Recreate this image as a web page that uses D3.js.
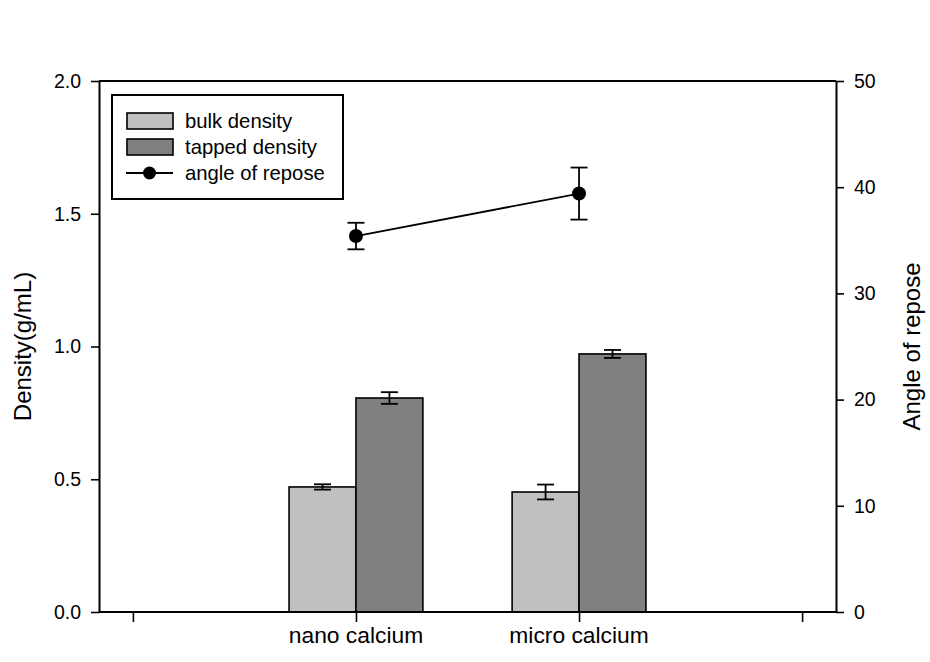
<!DOCTYPE html>
<html>
<head>
<meta charset="utf-8">
<script src="https://cdn.jsdelivr.net/npm/d3@7"></script>
<style>
  html, body { margin: 0; padding: 0; background: #fff; }
  svg { display: block; }
  text { font-family: "Liberation Sans", Arial, sans-serif; fill: #000; }
</style>
</head>
<body>
<svg id="chart" width="930" height="662"></svg>
<script>
// ---- data ----
const categories = ["nano calcium", "micro calcium"];
const categoryPos = [1, 2];
const xTickPos = [0, 1, 2, 3];
const bulkDensity = [0.471, 0.452];
const bulkErr = [0.010, 0.028];
const tappedDensity = [0.806, 0.972];
const tappedErr = [0.022, 0.015];
const angleOfRepose = [35.4, 39.4];
const angleErr = [1.25, 2.45];
const leftTicks = [0, 0.5, 1.0, 1.5, 2.0];
const rightTicks = [0, 10, 20, 30, 40, 50];
const legendLabels = ["bulk density", "tapped density", "angle of repose"];

// ---- layout ----
const svg = d3.select("#chart");
const L = 99, R = 836, T = 81, B = 612;
const x = d3.scaleLinear().domain([-0.152, 3.152]).range([L, R]);
const yL = d3.scaleLinear().domain([0, 2]).range([B, T]);
const yR = d3.scaleLinear().domain([0, 50]).range([B, T]);
const barW = 0.3;
const bulkColor = "#c0c0c0", tappedColor = "#808080";

// bars
const g = svg.append("g");
function drawBars(vals, errs, offset, color) {
  g.selectAll(null).data(vals).enter().append("rect")
    .attr("x", (d, i) => x(categoryPos[i] + offset))
    .attr("width", x(barW) - x(0))
    .attr("y", d => yL(d))
    .attr("height", d => B - yL(d))
    .attr("fill", color).attr("stroke", "#000").attr("stroke-width", 1.6);
  vals.forEach((d, i) => {
    const cx = x(categoryPos[i] + offset + barW / 2);
    const y1 = yL(d + errs[i]), y0 = yL(d - errs[i]);
    g.append("line").attr("x1", cx).attr("x2", cx).attr("y1", y1).attr("y2", y0)
      .attr("stroke", "#000").attr("stroke-width", 1.8);
    [y1, y0].forEach(yy => g.append("line").attr("x1", cx - 8.5).attr("x2", cx + 8.5)
      .attr("y1", yy).attr("y2", yy).attr("stroke", "#000").attr("stroke-width", 1.8));
  });
}
drawBars(bulkDensity, bulkErr, -barW, bulkColor);
drawBars(tappedDensity, tappedErr, 0, tappedColor);

// angle line
const line = d3.line().x((d, i) => x(categoryPos[i])).y(d => yR(d));
g.append("path").datum(angleOfRepose).attr("d", line)
  .attr("fill", "none").attr("stroke", "#000").attr("stroke-width", 1.8);
angleOfRepose.forEach((d, i) => {
  const cx = x(categoryPos[i]);
  const y1 = yR(d + angleErr[i]), y0 = yR(d - angleErr[i]);
  g.append("line").attr("x1", cx).attr("x2", cx).attr("y1", y1).attr("y2", y0)
    .attr("stroke", "#000").attr("stroke-width", 1.8);
  [y1, y0].forEach(yy => g.append("line").attr("x1", cx - 8.5).attr("x2", cx + 8.5)
    .attr("y1", yy).attr("y2", yy).attr("stroke", "#000").attr("stroke-width", 1.8));
});
g.selectAll(null).data(angleOfRepose).enter().append("circle")
  .attr("cx", (d, i) => x(categoryPos[i])).attr("cy", d => yR(d))
  .attr("r", 7).attr("fill", "#000");

// frame top
svg.append("line").attr("x1", L).attr("x2", R).attr("y1", T).attr("y2", T)
  .attr("stroke", "#000").attr("stroke-width", 2);

// axes
function styleAxis(sel, fs) {
  sel.select(".domain").attr("stroke", "#000").attr("stroke-width", 2);
  sel.selectAll(".tick line").attr("stroke", "#000").attr("stroke-width", 1.6);
  sel.selectAll(".tick text").style("font-size", fs + "px")
    .style("font-family", '"Liberation Sans", Arial, sans-serif').attr("fill", "#000");
}
const axL = svg.append("g").attr("transform", `translate(${L},0)`)
  .call(d3.axisLeft(yL).tickValues(leftTicks).tickFormat(d3.format(".1f")).tickSize(8).tickSizeOuter(0).tickPadding(10));
styleAxis(axL, 19.5);
const axR = svg.append("g").attr("transform", `translate(${R},0)`)
  .call(d3.axisRight(yR).tickValues(rightTicks).tickFormat(d3.format("d")).tickSize(8).tickSizeOuter(0).tickPadding(10));
styleAxis(axR, 19.5);
const axB = svg.append("g").attr("transform", `translate(0,${B})`)
  .call(d3.axisBottom(x).tickValues(xTickPos).tickFormat(() => "").tickSize(10).tickSizeOuter(0));
styleAxis(axB, 22);
axB.select(".domain").attr("d", `M${L},0H${R}`);
svg.selectAll(null).data(categories).enter().append("text")
  .attr("x", (d, i) => x(categoryPos[i])).attr("y", 643)
  .attr("text-anchor", "middle").style("font-size", "22.8px").text(d => d);

// axis titles
svg.append("text").attr("transform", `translate(31,${(T + B) / 2}) rotate(-90)`)
  .attr("text-anchor", "middle").style("font-size", "24px").text("Density(g/mL)");
svg.append("text").attr("transform", `translate(920,${(T + B) / 2}) rotate(-90)`)
  .attr("text-anchor", "middle").style("font-size", "24px").text("Angle of repose");

// legend
const lg = svg.append("g");
lg.append("rect").attr("x", 112).attr("y", 95).attr("width", 231).attr("height", 104)
  .attr("fill", "#fff").attr("stroke", "#000").attr("stroke-width", 2);
const rowY = [121, 147, 173];
[bulkColor, tappedColor].forEach((c, i) => {
  lg.append("rect").attr("x", 127).attr("y", rowY[i] - 8).attr("width", 46).attr("height", 16)
    .attr("fill", c).attr("stroke", "#000").attr("stroke-width", 1.6);
});
lg.append("line").attr("x1", 126).attr("x2", 173).attr("y1", rowY[2]).attr("y2", rowY[2])
  .attr("stroke", "#000").attr("stroke-width", 1.8);
lg.append("circle").attr("cx", 149.5).attr("cy", rowY[2]).attr("r", 6.5).attr("fill", "#000");
lg.selectAll(null).data(legendLabels).enter().append("text")
  .attr("x", 185).attr("y", (d, i) => rowY[i] + 7)
  .style("font-size", "20.3px").text(d => d);
</script>
</body>
</html>
